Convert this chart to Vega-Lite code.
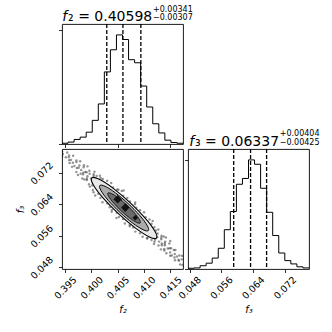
{
  "$schema": "https://vega.github.io/schema/vega-lite/v6.json",
  "padding": {"left": 14, "top": 5, "right": 5, "bottom": 5},
  "background": "white",
  "columns": 2,
  "spacing": 5,
  "bounds": "flush",
  "datasets": {
    "h2": [
      {"x": 0.3944, "c": 2}, {"x": 0.39555, "c": 5}, {"x": 0.3967, "c": 12}, {"x": 0.39785, "c": 18},
      {"x": 0.399, "c": 31}, {"x": 0.40015, "c": 62}, {"x": 0.4013, "c": 105}, {"x": 0.40245, "c": 189},
      {"x": 0.4036, "c": 247}, {"x": 0.40475, "c": 286}, {"x": 0.4059, "c": 274}, {"x": 0.40705, "c": 221},
      {"x": 0.4082, "c": 213}, {"x": 0.40935, "c": 152}, {"x": 0.4105, "c": 97}, {"x": 0.41165, "c": 53},
      {"x": 0.4128, "c": 29}, {"x": 0.41395, "c": 10}, {"x": 0.4151, "c": 4}, {"x": 0.41625, "c": 2},
      {"x": 0.4174, "c": 2}
    ],
    "h3": [
      {"x": 0.0476, "c": 2}, {"x": 0.049125, "c": 3}, {"x": 0.05065, "c": 9}, {"x": 0.052175, "c": 16},
      {"x": 0.0537, "c": 30}, {"x": 0.055225, "c": 57}, {"x": 0.05675, "c": 108}, {"x": 0.058275, "c": 158},
      {"x": 0.0598, "c": 233}, {"x": 0.061325, "c": 249}, {"x": 0.06285, "c": 300}, {"x": 0.064375, "c": 288},
      {"x": 0.0659, "c": 222}, {"x": 0.067425, "c": 156}, {"x": 0.06895, "c": 92}, {"x": 0.070475, "c": 44},
      {"x": 0.072, "c": 23}, {"x": 0.073525, "c": 14}, {"x": 0.07505, "c": 6}, {"x": 0.076575, "c": 3},
      {"x": 0.0781, "c": 3}
    ],
    "q2": [{"q": 0.40291}, {"q": 0.40598}, {"q": 0.40939}],
    "q3": [{"q": 0.05912}, {"q": 0.06337}, {"q": 0.06741}],
    "pts": [
      {"f2": 0.39442, "f3": 0.07744}, {"f2": 0.39539, "f3": 0.07721}, {"f2": 0.39513, "f3": 0.076}, {"f2": 0.3957, "f3": 0.07599},
      {"f2": 0.39652, "f3": 0.07636}, {"f2": 0.39585, "f3": 0.07455}, {"f2": 0.39647, "f3": 0.07462}, {"f2": 0.39714, "f3": 0.07477},
      {"f2": 0.39631, "f3": 0.07356}, {"f2": 0.39785, "f3": 0.07499}, {"f2": 0.39723, "f3": 0.07325}, {"f2": 0.3977, "f3": 0.07393},
      {"f2": 0.39713, "f3": 0.07227}, {"f2": 0.39852, "f3": 0.07347}, {"f2": 0.39805, "f3": 0.07279}, {"f2": 0.39795, "f3": 0.07181},
      {"f2": 0.39924, "f3": 0.07369}, {"f2": 0.39882, "f3": 0.07225}, {"f2": 0.39841, "f3": 0.07165}, {"f2": 0.3996, "f3": 0.07255},
      {"f2": 0.39826, "f3": 0.07059}, {"f2": 0.39923, "f3": 0.07119}, {"f2": 0.39965, "f3": 0.07179}, {"f2": 0.39913, "f3": 0.07021},
      {"f2": 0.40057, "f3": 0.07231}, {"f2": 0.39995, "f3": 0.07058}, {"f2": 0.40041, "f3": 0.07125}, {"f2": 0.39954, "f3": 0.06914},
      {"f2": 0.40098, "f3": 0.07125}, {"f2": 0.39969, "f3": 0.06854}, {"f2": 0.4016, "f3": 0.07132}, {"f2": 0.40025, "f3": 0.0677},
      {"f2": 0.40216, "f3": 0.07048}, {"f2": 0.4004, "f3": 0.06709}, {"f2": 0.40298, "f3": 0.07002}, {"f2": 0.40128, "f3": 0.06671},
      {"f2": 0.40375, "f3": 0.06948}, {"f2": 0.40169, "f3": 0.06564}, {"f2": 0.40411, "f3": 0.06834}, {"f2": 0.40209, "f3": 0.06458},
      {"f2": 0.40488, "f3": 0.06781}, {"f2": 0.40302, "f3": 0.06427}, {"f2": 0.40575, "f3": 0.06742}, {"f2": 0.40348, "f3": 0.06328},
      {"f2": 0.40605, "f3": 0.0662}, {"f2": 0.40384, "f3": 0.06214}, {"f2": 0.40682, "f3": 0.06567}, {"f2": 0.40481, "f3": 0.0619},
      {"f2": 0.40733, "f3": 0.06475}, {"f2": 0.40522, "f3": 0.06084}, {"f2": 0.40831, "f3": 0.06452}, {"f2": 0.40599, "f3": 0.0603},
      {"f2": 0.40851, "f3": 0.06315}, {"f2": 0.40635, "f3": 0.05916}, {"f2": 0.40923, "f3": 0.06254}, {"f2": 0.40727, "f3": 0.05885},
      {"f2": 0.41, "f3": 0.062}, {"f2": 0.40794, "f3": 0.05817}, {"f2": 0.4103, "f3": 0.06079}, {"f2": 0.40834, "f3": 0.0571},
      {"f2": 0.41102, "f3": 0.06018}, {"f2": 0.40922, "f3": 0.05671}, {"f2": 0.41143, "f3": 0.05911}, {"f2": 0.40973, "f3": 0.0558},
      {"f2": 0.41194, "f3": 0.0582}, {"f2": 0.41055, "f3": 0.05534}, {"f2": 0.41271, "f3": 0.05766}, {"f2": 0.41142, "f3": 0.05495},
      {"f2": 0.41256, "f3": 0.05661}, {"f2": 0.41209, "f3": 0.0551}, {"f2": 0.4125, "f3": 0.0557}, {"f2": 0.41188, "f3": 0.05397},
      {"f2": 0.41332, "f3": 0.05607}, {"f2": 0.41286, "f3": 0.05456}, {"f2": 0.41327, "f3": 0.05516}, {"f2": 0.41275, "f3": 0.05358},
      {"f2": 0.41415, "f3": 0.05561}, {"f2": 0.41337, "f3": 0.05365}, {"f2": 0.41399, "f3": 0.05455}, {"f2": 0.41321, "f3": 0.05259},
      {"f2": 0.41394, "f3": 0.05364}, {"f2": 0.41481, "f3": 0.05409}, {"f2": 0.41383, "f3": 0.05266}, {"f2": 0.4145, "f3": 0.0528},
      {"f2": 0.41424, "f3": 0.0516}, {"f2": 0.41512, "f3": 0.05287}, {"f2": 0.41496, "f3": 0.05182}, {"f2": 0.41594, "f3": 0.05241},
      {"f2": 0.41496, "f3": 0.05098}, {"f2": 0.41583, "f3": 0.05143}, {"f2": 0.41578, "f3": 0.05052}, {"f2": 0.4167, "f3": 0.05104},
      {"f2": 0.41655, "f3": 0.04998}, {"f2": 0.41716, "f3": 0.05005}, {"f2": 0.41685, "f3": 0.04877},
      {"f2": 0.39913, "f3": 0.07062}, {"f2": 0.40042, "f3": 0.07167}, {"f2": 0.39908, "f3": 0.07221}, {"f2": 0.39841, "f3": 0.07207},
      {"f2": 0.39857, "f3": 0.07396}, {"f2": 0.39757, "f3": 0.07332}, {"f2": 0.39675, "f3": 0.07379}, {"f2": 0.39714, "f3": 0.07518},
      {"f2": 0.39611, "f3": 0.07534}, {"f2": 0.39575, "f3": 0.07648}, {"f2": 0.39867, "f3": 0.07036}, {"f2": 0.40175, "f3": 0.07071},
      {"f2": 0.40015, "f3": 0.0688}, {"f2": 0.39744, "f3": 0.07147}, {"f2": 0.39442, "f3": 0.07619}, {"f2": 0.39457, "f3": 0.07683},
      {"f2": 0.39577, "f3": 0.07527}, {"f2": 0.41327, "f3": 0.05558}, {"f2": 0.41198, "f3": 0.05453}, {"f2": 0.41337, "f3": 0.05406},
      {"f2": 0.41394, "f3": 0.05406}, {"f2": 0.41386, "f3": 0.05228}, {"f2": 0.41483, "f3": 0.05288}, {"f2": 0.41565, "f3": 0.05241},
      {"f2": 0.41527, "f3": 0.05102}, {"f2": 0.41624, "f3": 0.05078}, {"f2": 0.41662, "f3": 0.04968}, {"f2": 0.41373, "f3": 0.05584},
      {"f2": 0.41065, "f3": 0.05549}, {"f2": 0.41225, "f3": 0.0574}, {"f2": 0.41497, "f3": 0.05473}, {"f2": 0.41722, "f3": 0.05096},
      {"f2": 0.41731, "f3": 0.04861}, {"f2": 0.41588, "f3": 0.04984}, {"f2": 0.40389, "f3": 0.06263}, {"f2": 0.40826, "f3": 0.06403},
      {"f2": 0.40729, "f3": 0.05847}, {"f2": 0.40513, "f3": 0.06776}, {"f2": 0.41164, "f3": 0.05983}, {"f2": 0.40071, "f3": 0.06629},
      {"f2": 0.40476, "f3": 0.06058}, {"f2": 0.40611, "f3": 0.06753}
    ],
    "e2": [
      {"i": 0, "f2": 0.41235, "f3": 0.05547}, {"i": 1, "f2": 0.41101, "f3": 0.05574}, {"i": 2, "f2": 0.40838, "f3": 0.05798},
      {"i": 3, "f2": 0.40517, "f3": 0.0616}, {"i": 4, "f2": 0.40223, "f3": 0.06561}, {"i": 5, "f2": 0.40036, "f3": 0.06895},
      {"i": 6, "f2": 0.40005, "f3": 0.07073}, {"i": 7, "f2": 0.40139, "f3": 0.07046}, {"i": 8, "f2": 0.40402, "f3": 0.06822},
      {"i": 9, "f2": 0.40723, "f3": 0.0646}, {"i": 10, "f2": 0.41017, "f3": 0.06059}, {"i": 11, "f2": 0.41204, "f3": 0.05725}
    ],
    "e15": [
      {"i": 0, "f2": 0.41081, "f3": 0.05738}, {"i": 1, "f2": 0.40981, "f3": 0.05758}, {"i": 2, "f2": 0.40784, "f3": 0.05926},
      {"i": 3, "f2": 0.40543, "f3": 0.06197}, {"i": 4, "f2": 0.40323, "f3": 0.06498}, {"i": 5, "f2": 0.40182, "f3": 0.06749},
      {"i": 6, "f2": 0.40159, "f3": 0.06882}, {"i": 7, "f2": 0.4026, "f3": 0.06862}, {"i": 8, "f2": 0.40457, "f3": 0.06694},
      {"i": 9, "f2": 0.40697, "f3": 0.06423}, {"i": 10, "f2": 0.40918, "f3": 0.06122}, {"i": 11, "f2": 0.41058, "f3": 0.05871}
    ],
    "e1": [
      {"i": 0, "f2": 0.40927, "f3": 0.05929}, {"i": 1, "f2": 0.4086, "f3": 0.05942}, {"i": 2, "f2": 0.40729, "f3": 0.06054},
      {"i": 3, "f2": 0.40568, "f3": 0.06235}, {"i": 4, "f2": 0.40422, "f3": 0.06436}, {"i": 5, "f2": 0.40328, "f3": 0.06603},
      {"i": 6, "f2": 0.40313, "f3": 0.06691}, {"i": 7, "f2": 0.4038, "f3": 0.06678}, {"i": 8, "f2": 0.40511, "f3": 0.06566},
      {"i": 9, "f2": 0.40672, "f3": 0.06385}, {"i": 10, "f2": 0.40818, "f3": 0.06184}, {"i": 11, "f2": 0.40912, "f3": 0.06017}
    ],
    "dm": [
      {"k": "a", "i": 0, "f2": 0.40499, "f3": 0.06634}, {"k": "a", "i": 1, "f2": 0.40575, "f3": 0.06532},
      {"k": "a", "i": 2, "f2": 0.40499, "f3": 0.0643}, {"k": "a", "i": 3, "f2": 0.40423, "f3": 0.06532},
      {"k": "b", "i": 0, "f2": 0.40643, "f3": 0.06422}, {"k": "b", "i": 1, "f2": 0.40719, "f3": 0.0632},
      {"k": "b", "i": 2, "f2": 0.40643, "f3": 0.06218}, {"k": "b", "i": 3, "f2": 0.40567, "f3": 0.0632},
      {"k": "c", "i": 0, "f2": 0.40833, "f3": 0.06128}, {"k": "c", "i": 1, "f2": 0.40881, "f3": 0.06064},
      {"k": "c", "i": 2, "f2": 0.40833, "f3": 0.06}, {"k": "c", "i": 3, "f2": 0.40786, "f3": 0.06064}
    ],
    "one": [{}]
  },
  "concat": [
    {
      "width": 121,
      "height": 120,
      "layer": [
        {
          "data": {"name": "h2"},
          "mark": {"type": "line", "interpolate": "step-after", "color": "#000", "strokeWidth": 1},
          "encoding": {
            "x": {"field": "x", "type": "quantitative", "scale": {"domain": [0.3944, 0.4174], "nice": false, "zero": false},
                  "axis": {"values": [0.395, 0.4, 0.405, 0.41, 0.415], "labels": false, "title": null}},
            "y": {"field": "c", "type": "quantitative", "scale": {"domain": [0, 314.6], "nice": false},
                  "axis": {"values": [0, 100, 200, 300], "labels": false, "title": null}}
          }
        },
        {
          "data": {"name": "q2"},
          "mark": {"type": "rule", "color": "#000", "strokeWidth": 1.3, "strokeDash": [4, 2]},
          "encoding": {"x": {"field": "q", "type": "quantitative"}}
        },
        {
          "data": {"name": "one"},
          "mark": {"type": "text", "align": "left", "baseline": "alphabetic", "fontSize": 14, "fontStyle": "italic", "font": "DejaVu Sans"},
          "encoding": {"x": {"datum": 0.39444}, "y": {"datum": 322.5}, "text": {"value": "f"}}
        },
        {
          "data": {"name": "one"},
          "mark": {"type": "text", "align": "right", "baseline": "alphabetic", "fontSize": 14, "font": "DejaVu Sans"},
          "encoding": {"x": {"datum": 0.41155}, "y": {"datum": 322.5}, "text": {"value": "₂ = 0.40598"}}
        },
        {
          "data": {"name": "one"},
          "mark": {"type": "text", "align": "left", "baseline": "alphabetic", "fontSize": 8, "font": "DejaVu Sans"},
          "encoding": {"x": {"datum": 0.4117}, "y": {"datum": 346.5}, "text": {"value": "+0.00341"}}
        },
        {
          "data": {"name": "one"},
          "mark": {"type": "text", "align": "left", "baseline": "alphabetic", "fontSize": 8, "font": "DejaVu Sans"},
          "encoding": {"x": {"datum": 0.4117}, "y": {"datum": 325.5}, "text": {"value": "−0.00307"}}
        }
      ]
    },
    {
      "width": 121,
      "height": 120,
      "view": {"stroke": null},
      "data": {"name": "one"},
      "mark": {"type": "text"},
      "encoding": {"text": {"value": ""}}
    },
    {
      "width": 121,
      "height": 120,
      "encoding": {
        "x": {"field": "f2", "type": "quantitative", "scale": {"domain": [0.3944, 0.4174], "nice": false, "zero": false},
              "axis": {"values": [0.395, 0.4, 0.405, 0.41, 0.415], "format": ".3f", "title": "f₂", "labelOverlap": false,
                       "labelAngle": -45, "labelAlign": "center", "labelBaseline": "middle", "labelPadding": 15, "titlePadding": 4}},
        "y": {"field": "f3", "type": "quantitative", "scale": {"domain": [0.0476, 0.0781], "nice": false, "zero": false},
              "axis": {"values": [0.048, 0.056, 0.064, 0.072], "format": ".3f", "title": "f₃", "labelOverlap": false,
                       "labelAngle": -45, "labelAlign": "center", "labelBaseline": "middle", "labelPadding": 17, "titlePadding": 3}}
      },
      "layer": [
        {
          "data": {"name": "pts"},
          "mark": {"type": "circle", "color": "#000", "opacity": 0.42, "size": 6, "clip": true}
        },
        {
          "data": {"name": "e2"},
          "mark": {"type": "line", "interpolate": "cardinal-closed", "fill": "#e8e8e8", "stroke": "#000", "strokeWidth": 1.1, "clip": true},
          "encoding": {"order": {"field": "i"}}
        },
        {
          "data": {"name": "e15"},
          "mark": {"type": "line", "interpolate": "cardinal-closed", "fill": "#ababab", "stroke": "#000", "strokeWidth": 1, "clip": true},
          "encoding": {"order": {"field": "i"}}
        },
        {
          "data": {"name": "e1"},
          "mark": {"type": "line", "interpolate": "cardinal-closed", "fill": "#6b6b6b", "stroke": "#000", "strokeWidth": 0.8, "clip": true},
          "encoding": {"order": {"field": "i"}}
        },
        {
          "data": {"name": "dm"},
          "mark": {"type": "line", "interpolate": "linear-closed", "fill": "#111111", "stroke": "#111111", "strokeWidth": 0.5, "clip": true},
          "encoding": {"order": {"field": "i"}, "detail": {"field": "k"}}
        }
      ]
    },
    {
      "width": 121,
      "height": 120,
      "layer": [
        {
          "data": {"name": "h3"},
          "mark": {"type": "line", "interpolate": "step-after", "color": "#000", "strokeWidth": 1},
          "encoding": {
            "x": {"field": "x", "type": "quantitative", "scale": {"domain": [0.0476, 0.0781], "nice": false, "zero": false},
                  "axis": {"values": [0.048, 0.056, 0.064, 0.072], "format": ".3f", "title": "f₃", "labelOverlap": false,
                           "labelAngle": -45, "labelAlign": "center", "labelBaseline": "middle", "labelPadding": 15, "titlePadding": 4}},
            "y": {"field": "c", "type": "quantitative", "scale": {"domain": [0, 330], "nice": false},
                  "axis": {"values": [0, 100, 200, 300], "labels": false, "title": null}}
          }
        },
        {
          "data": {"name": "q3"},
          "mark": {"type": "rule", "color": "#000", "strokeWidth": 1.3, "strokeDash": [4, 2]},
          "encoding": {"x": {"field": "q", "type": "quantitative"}}
        },
        {
          "data": {"name": "one"},
          "mark": {"type": "text", "align": "left", "baseline": "alphabetic", "fontSize": 14, "fontStyle": "italic", "font": "DejaVu Sans"},
          "encoding": {"x": {"datum": 0.0479}, "y": {"datum": 339.6}, "text": {"value": "f"}}
        },
        {
          "data": {"name": "one"},
          "mark": {"type": "text", "align": "right", "baseline": "alphabetic", "fontSize": 14, "font": "DejaVu Sans"},
          "encoding": {"x": {"datum": 0.07055}, "y": {"datum": 339.6}, "text": {"value": "₃ = 0.06337"}}
        },
        {
          "data": {"name": "one"},
          "mark": {"type": "text", "align": "left", "baseline": "alphabetic", "fontSize": 8, "font": "DejaVu Sans"},
          "encoding": {"x": {"datum": 0.07072}, "y": {"datum": 365}, "text": {"value": "+0.00404"}}
        },
        {
          "data": {"name": "one"},
          "mark": {"type": "text", "align": "left", "baseline": "alphabetic", "fontSize": 8, "font": "DejaVu Sans"},
          "encoding": {"x": {"datum": 0.07072}, "y": {"datum": 341.5}, "text": {"value": "−0.00425"}}
        }
      ]
    }
  ],
  "config": {
    "font": "DejaVu Sans",
    "view": {"stroke": "#000", "strokeWidth": 0.9},
    "axis": {
      "domain": false, "grid": false, "ticks": true, "tickColor": "#000", "tickSize": 3.5, "tickWidth": 0.8,
      "labelFont": "DejaVu Sans", "labelFontSize": 9.5, "labelColor": "#000", "labelFlush": false, "labelOverlap": false,
      "titleFont": "DejaVu Sans", "titleFontSize": 10, "titleFontWeight": "normal", "titleFontStyle": "italic", "titleColor": "#000"
    }
  }
}
